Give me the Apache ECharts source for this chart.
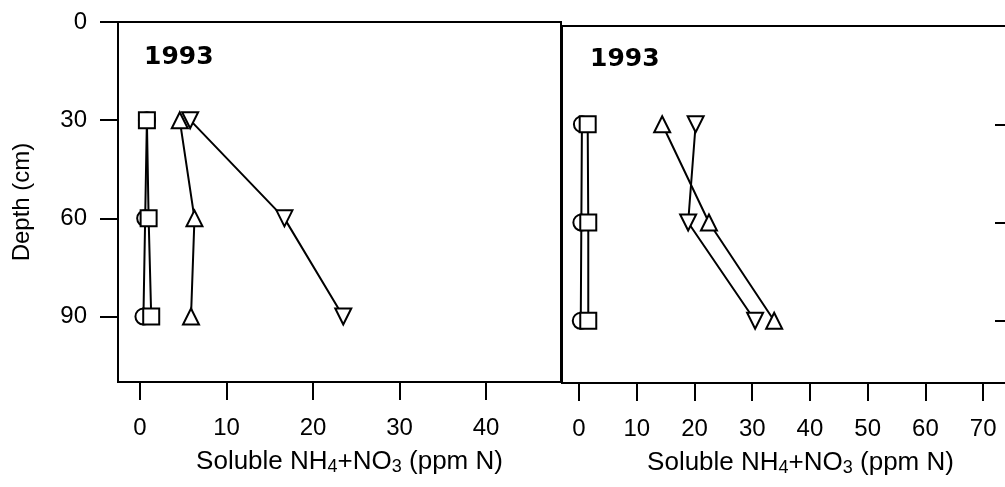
<!DOCTYPE html>
<html><head><meta charset="utf-8">
<script src="https://cdn.jsdelivr.net/npm/echarts@6/dist/echarts.min.js"></script>
<style>html,body{margin:0;padding:0;background:#fff}#c{width:1005px;height:487px}</style>
</head><body><div id="c"></div>
<script>
// ---- data ----
const depths = [30, 60, 90];
const yTicks = [0, 30, 60, 90];
const rightYTicks = [30, 60, 90];
const leftXTicks = [0, 10, 20, 30, 40];
const rightXTicks = [0, 10, 20, 30, 40, 50, 60, 70];
const panelTitles = ['1993', '1993'];
const yAxisTitle = 'Depth (cm)';
const xAxisTitle = '{a|Soluble NH}{s|4}{a|+NO}{s|3}{a| (ppm N)}';

const leftCircle   = [0.8, 0.6, 0.4];
const leftSquare   = [0.8, 1.0, 1.3];
const leftTriUp    = [4.6, 6.3, 5.9];
const leftTriDown  = [5.8, 16.7, 23.5];
const rightCircle  = [0.5, 0.4, 0.3];
const rightSquare  = [1.5, 1.6, 1.6];
const rightTriUp   = [14.4, 22.5, 33.8];
const rightTriDown = [20.2, 18.9, 30.5];

// ---- chart ----
const FONT = 'Liberation Sans, Arial, sans-serif';
const pairs = (xs) => xs.map((x, i) => [x, depths[i]]);

function mkSeries(idx, xs, symbol, rotate) {
  return {
    type: 'line', xAxisIndex: idx, yAxisIndex: idx,
    data: pairs(xs), symbol: symbol, symbolSize: 16, symbolRotate: rotate || 0,
    showAllSymbol: true, animation: false,
    lineStyle: { color: '#000', width: 2 },
    itemStyle: { color: '#fff', borderColor: '#000', borderWidth: 2 },
    emphasis: { disabled: true }
  };
}

const nameStyle = (padLeft) => ({
  padding: [0, 0, 0, padLeft],
  rich: {
    a: { fontSize: 26, color: '#000', fontFamily: FONT, lineHeight: 28 },
    s: { fontSize: 18, color: '#000', fontFamily: FONT, lineHeight: 16, verticalAlign: 'bottom' }
  }
});

const axisLine = { show: true, onZero: false, lineStyle: { color: '#000', width: 2 } };
const tickLine = { color: '#000', width: 2 };
const labelStyle = { color: '#000', fontSize: 24, fontFamily: FONT };
const titleStyle = { fontSize: 25, fontWeight: 'bold', color: '#000', fontFamily: 'DejaVu Sans, sans-serif' };

const option = {
  backgroundColor: '#fff',
  animation: false,
  title: [
    { text: panelTitles[0], left: 144, top: 45, padding: 0, textStyle: titleStyle },
    { text: panelTitles[1], left: 590, top: 47, padding: 0, textStyle: titleStyle }
  ],
  grid: [
    { left: 118, top: 22, width: 443, height: 360, outerBoundsMode: 'none', containLabel: false,
      show: true, borderColor: '#000', borderWidth: 2, backgroundColor: 'transparent' },
    { left: 562, top: 26, width: 446, height: 357, outerBoundsMode: 'none', containLabel: false,
      show: true, borderColor: '#000', borderWidth: 2, backgroundColor: 'transparent' }
  ],
  xAxis: [
    { gridIndex: 0, type: 'value', min: -2.54, max: 48.67,
      axisLine: axisLine,
      axisTick: { show: true, customValues: leftXTicks, length: 18, lineStyle: tickLine },
      axisLabel: Object.assign({ customValues: leftXTicks, margin: 34 }, labelStyle),
      splitLine: { show: false },
      name: xAxisTitle, nameLocation: 'middle', nameGap: 66, nameTextStyle: nameStyle(20) },
    { gridIndex: 1, type: 'value', min: -2.95, max: 74.3,
      axisLine: axisLine,
      axisTick: { show: true, customValues: rightXTicks, length: 18, lineStyle: tickLine },
      axisLabel: Object.assign({ customValues: rightXTicks, margin: 34 }, labelStyle),
      splitLine: { show: false },
      name: xAxisTitle, nameLocation: 'middle', nameGap: 66, nameTextStyle: nameStyle(31) }
  ],
  yAxis: [
    { gridIndex: 0, type: 'value', inverse: true, min: 0, max: 110,
      axisLine: axisLine,
      axisTick: { show: true, customValues: yTicks, length: 18, lineStyle: tickLine },
      axisLabel: Object.assign({ customValues: yTicks, margin: 31 }, labelStyle),
      splitLine: { show: false },
      name: yAxisTitle, nameLocation: 'middle', nameGap: 84,
      nameTextStyle: { fontSize: 24, color: '#000', fontFamily: FONT } },
    { gridIndex: 1, type: 'value', inverse: true, min: 0, max: 109, position: 'right',
      axisLine: { show: false, onZero: false },
      axisTick: { show: true, inside: true, customValues: rightYTicks, length: 13, lineStyle: tickLine },
      axisLabel: { show: false },
      splitLine: { show: false } }
  ],
  series: [
    mkSeries(0, leftCircle, 'circle'),
    mkSeries(0, leftSquare, 'rect'),
    mkSeries(0, leftTriUp, 'triangle'),
    mkSeries(0, leftTriDown, 'triangle', 180),
    mkSeries(1, rightCircle, 'circle'),
    mkSeries(1, rightSquare, 'rect'),
    mkSeries(1, rightTriUp, 'triangle'),
    mkSeries(1, rightTriDown, 'triangle', 180)
  ]
};

const chart = echarts.init(document.getElementById('c'), null, { renderer: 'canvas' });
chart.setOption(option);
</script>
</body></html>
